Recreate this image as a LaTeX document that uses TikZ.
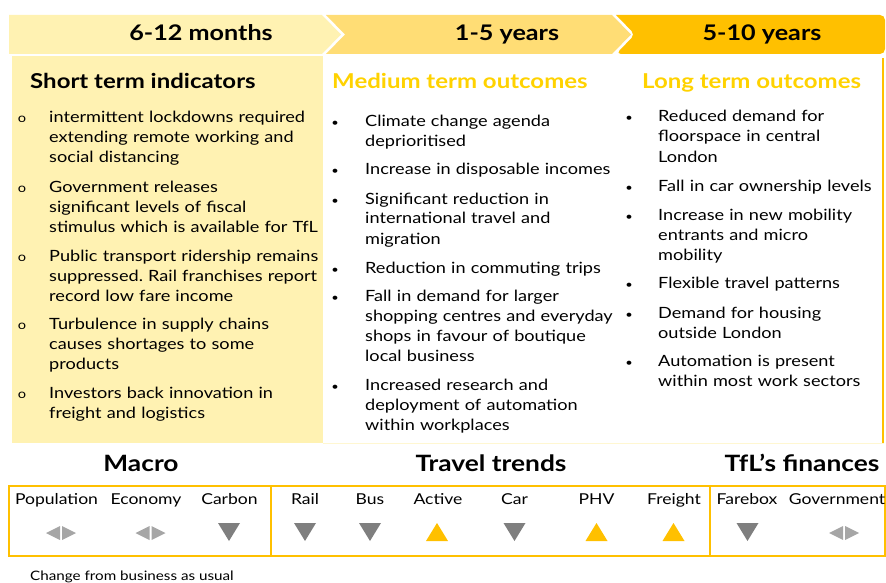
\documentclass[tikz,border=0pt]{standalone}
\usepackage{fontspec}
\setmainfont{Lato}[FakeStretch=1.17]
\usetikzlibrary{positioning}
\frenchspacing

\begin{document}
\begin{tikzpicture}[x=1pt,y=-1pt,
  band/.style={font=\bfseries\fontsize{21.5}{26}\selectfont,anchor=base,inner sep=0},
  sect/.style={font=\bfseries\fontsize{20.5}{24}\selectfont,anchor=base west,inner sep=0},
  itm/.style={font=\fontsize{15.5}{20}\selectfont,anchor=base west,inner sep=0,text width=330pt,align=left},
  bul/.style={font=\fontsize{11}{20}\selectfont,anchor=base,inner sep=0},
  lbl/.style={font=\fontsize{15}{18}\selectfont,anchor=base,inner sep=0},
  grp/.style={font=\bfseries\fontsize{22.5}{26}\selectfont,anchor=base,inner sep=0}]
\definecolor{yA}{RGB}{255,242,178}
\definecolor{yB}{RGB}{255,221,117}
\definecolor{yC}{RGB}{255,192,0}
\definecolor{tflgold}{RGB}{255,210,0}
\definecolor{dn}{RGB}{127,127,127}
\definecolor{flat}{RGB}{166,166,166}
\useasboundingbox (0,0) rectangle (886,583);
\fill[yA] (9,15) -- (322,15) -- (341,34.5) -- (322,54) -- (9,54) -- cycle;
\fill[yB] (326,15) -- (612,15) -- (631,34.5) -- (612,54) -- (326,54) -- (345,34.5) -- cycle;
\fill[yC,rounded corners=5pt] (616,15) -- (885,15) -- (885,54) -- (616,54) -- (635,34.5) [sharp corners] -- cycle;
\node[band] (t1) at (201,41) {6-12 months};
\node[band] (t2) at (507,41) {1-5 years};
\node[band] (t3) at (762,41) {5-10 years};
\fill[yA] (12,56) rectangle (323,443);
\draw[yA!60] (323,443) -- (884,443);
\draw[yC,line width=2pt] (883,58) -- (883,443);
\node[sect] (st) at (30,89) {Short term indicators};
\node[sect,text=tflgold] (mt) at (332,89) {Medium term outcomes};
\node[sect,text=tflgold] (lt) at (642,89) {Long term outcomes};
\node[bul,font=\fontsize{12.5}{20}\selectfont] (bs1) at (22,123) {o};
\node[bul,font=\fontsize{12.5}{20}\selectfont] (bs2) at (22,192) {o};
\node[bul,font=\fontsize{12.5}{20}\selectfont] (bs3) at (22,261) {o};
\node[bul,font=\fontsize{12.5}{20}\selectfont] (bs4) at (22,329) {o};
\node[bul,font=\fontsize{12.5}{20}\selectfont] (bs5) at (22,398) {o};
\node[itm] (st1) at (49,123) {intermittent lockdowns required\\extending remote working and\\social distancing};
\node[itm] (st2) at (49,192) {Government releases\\significant levels of fiscal\\stimulus which is available for TfL};
\node[itm] (st3) at (49,261) {Public transport ridership remains\\suppressed. Rail franchises report\\record low fare income};
\node[itm] (st4) at (49,329) {Turbulence in supply chains\\causes shortages to some\\products};
\node[itm] (st5) at (49,398) {Investors back innovation in\\freight and logistics};
\node[bul] (bm1) at (335,127) {•};
\node[bul] (bm2) at (335,175) {•};
\node[bul] (bm3) at (335,204) {•};
\node[bul] (bm4) at (335,273) {•};
\node[bul] (bm5) at (335,301) {•};
\node[bul] (bm6) at (335,390) {•};
\node[itm] (mt1) at (365,127) {Climate change agenda\\deprioritised};
\node[itm] (mt2) at (365,175) {Increase in disposable incomes};
\node[itm] (mt3) at (365,204) {Significant reduction in\\international travel and\\migration};
\node[itm] (mt4) at (365,273) {Reduction in commuting trips};
\node[itm] (mt5) at (365,301) {Fall in demand for larger\\shopping centres and everyday\\shops in favour of boutique\\local business};
\node[itm] (mt6) at (365,390) {Increased research and\\deployment of automation\\within workplaces};
\node[bul] (bl1) at (629,122) {•};
\node[bul] (bl2) at (629,191) {•};
\node[bul] (bl3) at (629,220) {•};
\node[bul] (bl4) at (629,288) {•};
\node[bul] (bl5) at (629,318) {•};
\node[bul] (bl6) at (629,366) {•};
\node[itm] (lt1) at (658,122) {Reduced demand for\\floorspace in central\\London};
\node[itm] (lt2) at (658,191) {Fall in car ownership levels};
\node[itm] (lt3) at (658,220) {Increase in new mobility\\entrants and micro\\mobility};
\node[itm] (lt4) at (658,288) {Flexible travel patterns};
\node[itm] (lt5) at (658,318) {Demand for housing\\outside London};
\node[itm] (lt6) at (658,366) {Automation is present\\within most work sectors};
\node[grp] (macro) at (141,471) {Macro};
\node[grp] (travel) at (491,471) {Travel trends};
\node[grp] (fin) at (802,471) {TfL’s finances};
\draw[yC,line width=1.2pt] (9,486) rectangle (885,556);
\draw[yC,line width=1.2pt] (271,486) -- (271,556);
\draw[yC,line width=1.2pt] (710,486) -- (710,556);
\node[lbl] (pop) at (56.5,504) {Population};
\node[lbl] (eco) at (146,504) {Economy};
\node[lbl] (carb) at (229.5,504) {Carbon};
\node[lbl] (rail) at (305,504) {Rail};
\node[lbl] (bus) at (370,504) {Bus};
\node[lbl] (act) at (438,504) {Active};
\node[lbl] (car) at (514.5,504) {Car};
\node[lbl] (phv) at (596.5,504) {PHV};
\node[lbl] (frt) at (674,504) {Freight};
\node[lbl] (fare) at (747,504) {Farebox};
\node[lbl] (gov) at (837,504) {Government};
\fill[flat] (60,526) -- (60,540) -- (46,533) -- cycle;
\fill[flat] (62,526) -- (62,540) -- (76,533) -- cycle;
\fill[flat] (149.5,526) -- (149.5,540) -- (135.5,533) -- cycle;
\fill[flat] (151.5,526) -- (151.5,540) -- (165.5,533) -- cycle;
\fill[dn] (218,523) -- (240,523) -- (229,541) -- cycle;
\fill[dn] (294,523) -- (316,523) -- (305,541) -- cycle;
\fill[dn] (359,523) -- (381,523) -- (370,541) -- cycle;
\fill[yC] (426,541) -- (448,541) -- (437,523) -- cycle;
\fill[dn] (503.5,523) -- (525.5,523) -- (514.5,541) -- cycle;
\fill[yC] (585.5,541) -- (607.5,541) -- (596.5,523) -- cycle;
\fill[yC] (662.5,541) -- (684.5,541) -- (673.5,523) -- cycle;
\fill[dn] (736.5,523) -- (758.5,523) -- (747.5,541) -- cycle;
\fill[flat] (843,526) -- (843,540) -- (829,533) -- cycle;
\fill[flat] (845,526) -- (845,540) -- (859,533) -- cycle;
\node[font=\fontsize{13}{16}\selectfont,anchor=base west,inner sep=0] (note) at (30,580) {Change from business as usual};
\end{tikzpicture}
\end{document}
